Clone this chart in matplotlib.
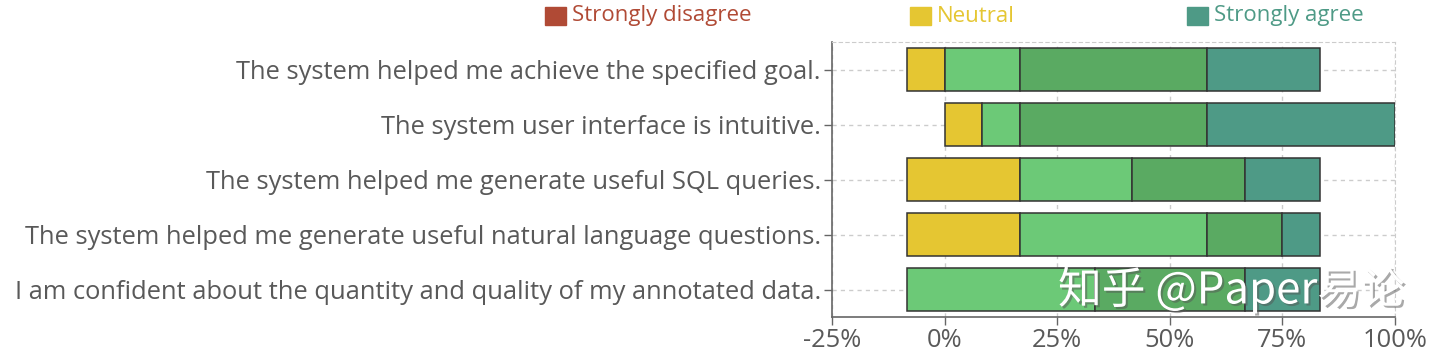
import matplotlib
matplotlib.use("Agg")
import matplotlib.pyplot as plt
import matplotlib.patheffects as pe
import numpy as np
from matplotlib.ticker import FuncFormatter

questions = [
    "The system helped me achieve the specified goal.",
    "The system user interface is intuitive.",
    "The system helped me generate useful SQL queries.",
    "The system helped me generate useful natural language questions.",
    "I am confident about the quantity and quality of my annotated data.",
]
levels = ["Strongly disagree", "Disagree", "Somewhat disagree", "Neutral",
          "Somewhat agree", "Agree", "Strongly agree"]
level_colors = ["#B04A35", "#D9822B", "#E8A93A", "#E5C632",
                "#6CC977", "#5AAA62", "#4E9A86"]
legend_levels = ["Strongly disagree", "Neutral", "Strongly agree"]

n_participants = 12
# response counts per level (rows = questions, cols = levels)
counts = np.array([
    [0, 0, 0, 1, 2, 5, 3],
    [0, 0, 0, 1, 1, 5, 5],
    [0, 0, 0, 3, 3, 3, 2],
    [0, 0, 0, 3, 5, 2, 1],
    [0, 0, 0, 0, 5, 4, 2],
])
no_answer = np.array([1, 0, 1, 1, 1])

x_ticks = [-25, 0, 25, 50, 75, 100]

plt.rcParams['font.family'] = ['Open Sans', 'DejaVu Sans']
fig = plt.figure(figsize=(14.4, 3.53), dpi=100)
ax = fig.add_axes([832 / 1440, 1 - 317 / 353, (1395 - 832) / 1440, (317 - 42) / 353])

pct = counts / n_participants * 100
left = -no_answer / n_participants * 100
y = np.arange(len(questions))
for j, lev in enumerate(levels):
    w = pct[:, j]
    mask = w > 0
    ax.barh(y[mask], w[mask], left=left[mask], height=0.78, color=level_colors[j],
            edgecolor="#333333", linewidth=1.1, zorder=3)
    left = left + w

ax.set_xlim(-25, 100)
ax.set_ylim(len(questions) - 0.5, -0.5)
ax.set_yticks(y)
ax.set_yticklabels(questions)
ax.set_xticks(x_ticks)
ax.xaxis.set_major_formatter(FuncFormatter(lambda v, p: f"{int(v)}%"))

grid_col = "#cccccc"
ax.grid(True, linestyle=(0, (3, 3)), color=grid_col, linewidth=1, zorder=0)
for s in ["top", "right"]:
    ax.spines[s].set_linestyle((0, (3, 3)))
    ax.spines[s].set_color(grid_col)
for s in ["left", "bottom"]:
    ax.spines[s].set_color("#666666")
    ax.spines[s].set_linewidth(1.2)
ax.tick_params(axis="both", colors="#666666", labelcolor="#595959", labelsize=18.4,
               length=6, width=1)
ax.tick_params(axis="y", pad=2)
ax.tick_params(axis="x", pad=2)

# legend
leg_pos = {"Strongly disagree": 545, "Neutral": 910, "Strongly agree": 1187}
for lev in legend_levels:
    c = level_colors[levels.index(lev)]
    x0 = leg_pos[lev]
    fig.patches.append(plt.Rectangle((x0 / 1440, 1 - 25 / 353), 21 / 1440, 18 / 353,
                                     transform=fig.transFigure, color=c))
    fig.text((x0 + 27) / 1440, 1 - 16 / 353, lev, color=c, fontsize=16,
             va="center", ha="left")

fig.text(1058 / 1440, 1 - 290 / 353, "知乎 @Paper易论", color="white", fontsize=31.5,
         family=['Noto Sans CJK SC', 'DejaVu Sans'], va="center", ha="left", zorder=10,
         path_effects=[pe.withSimplePatchShadow(offset=(1.5, -1.5), shadow_rgbFace="#555555", alpha=0.5)])

fig.savefig("out.png", dpi=100)
